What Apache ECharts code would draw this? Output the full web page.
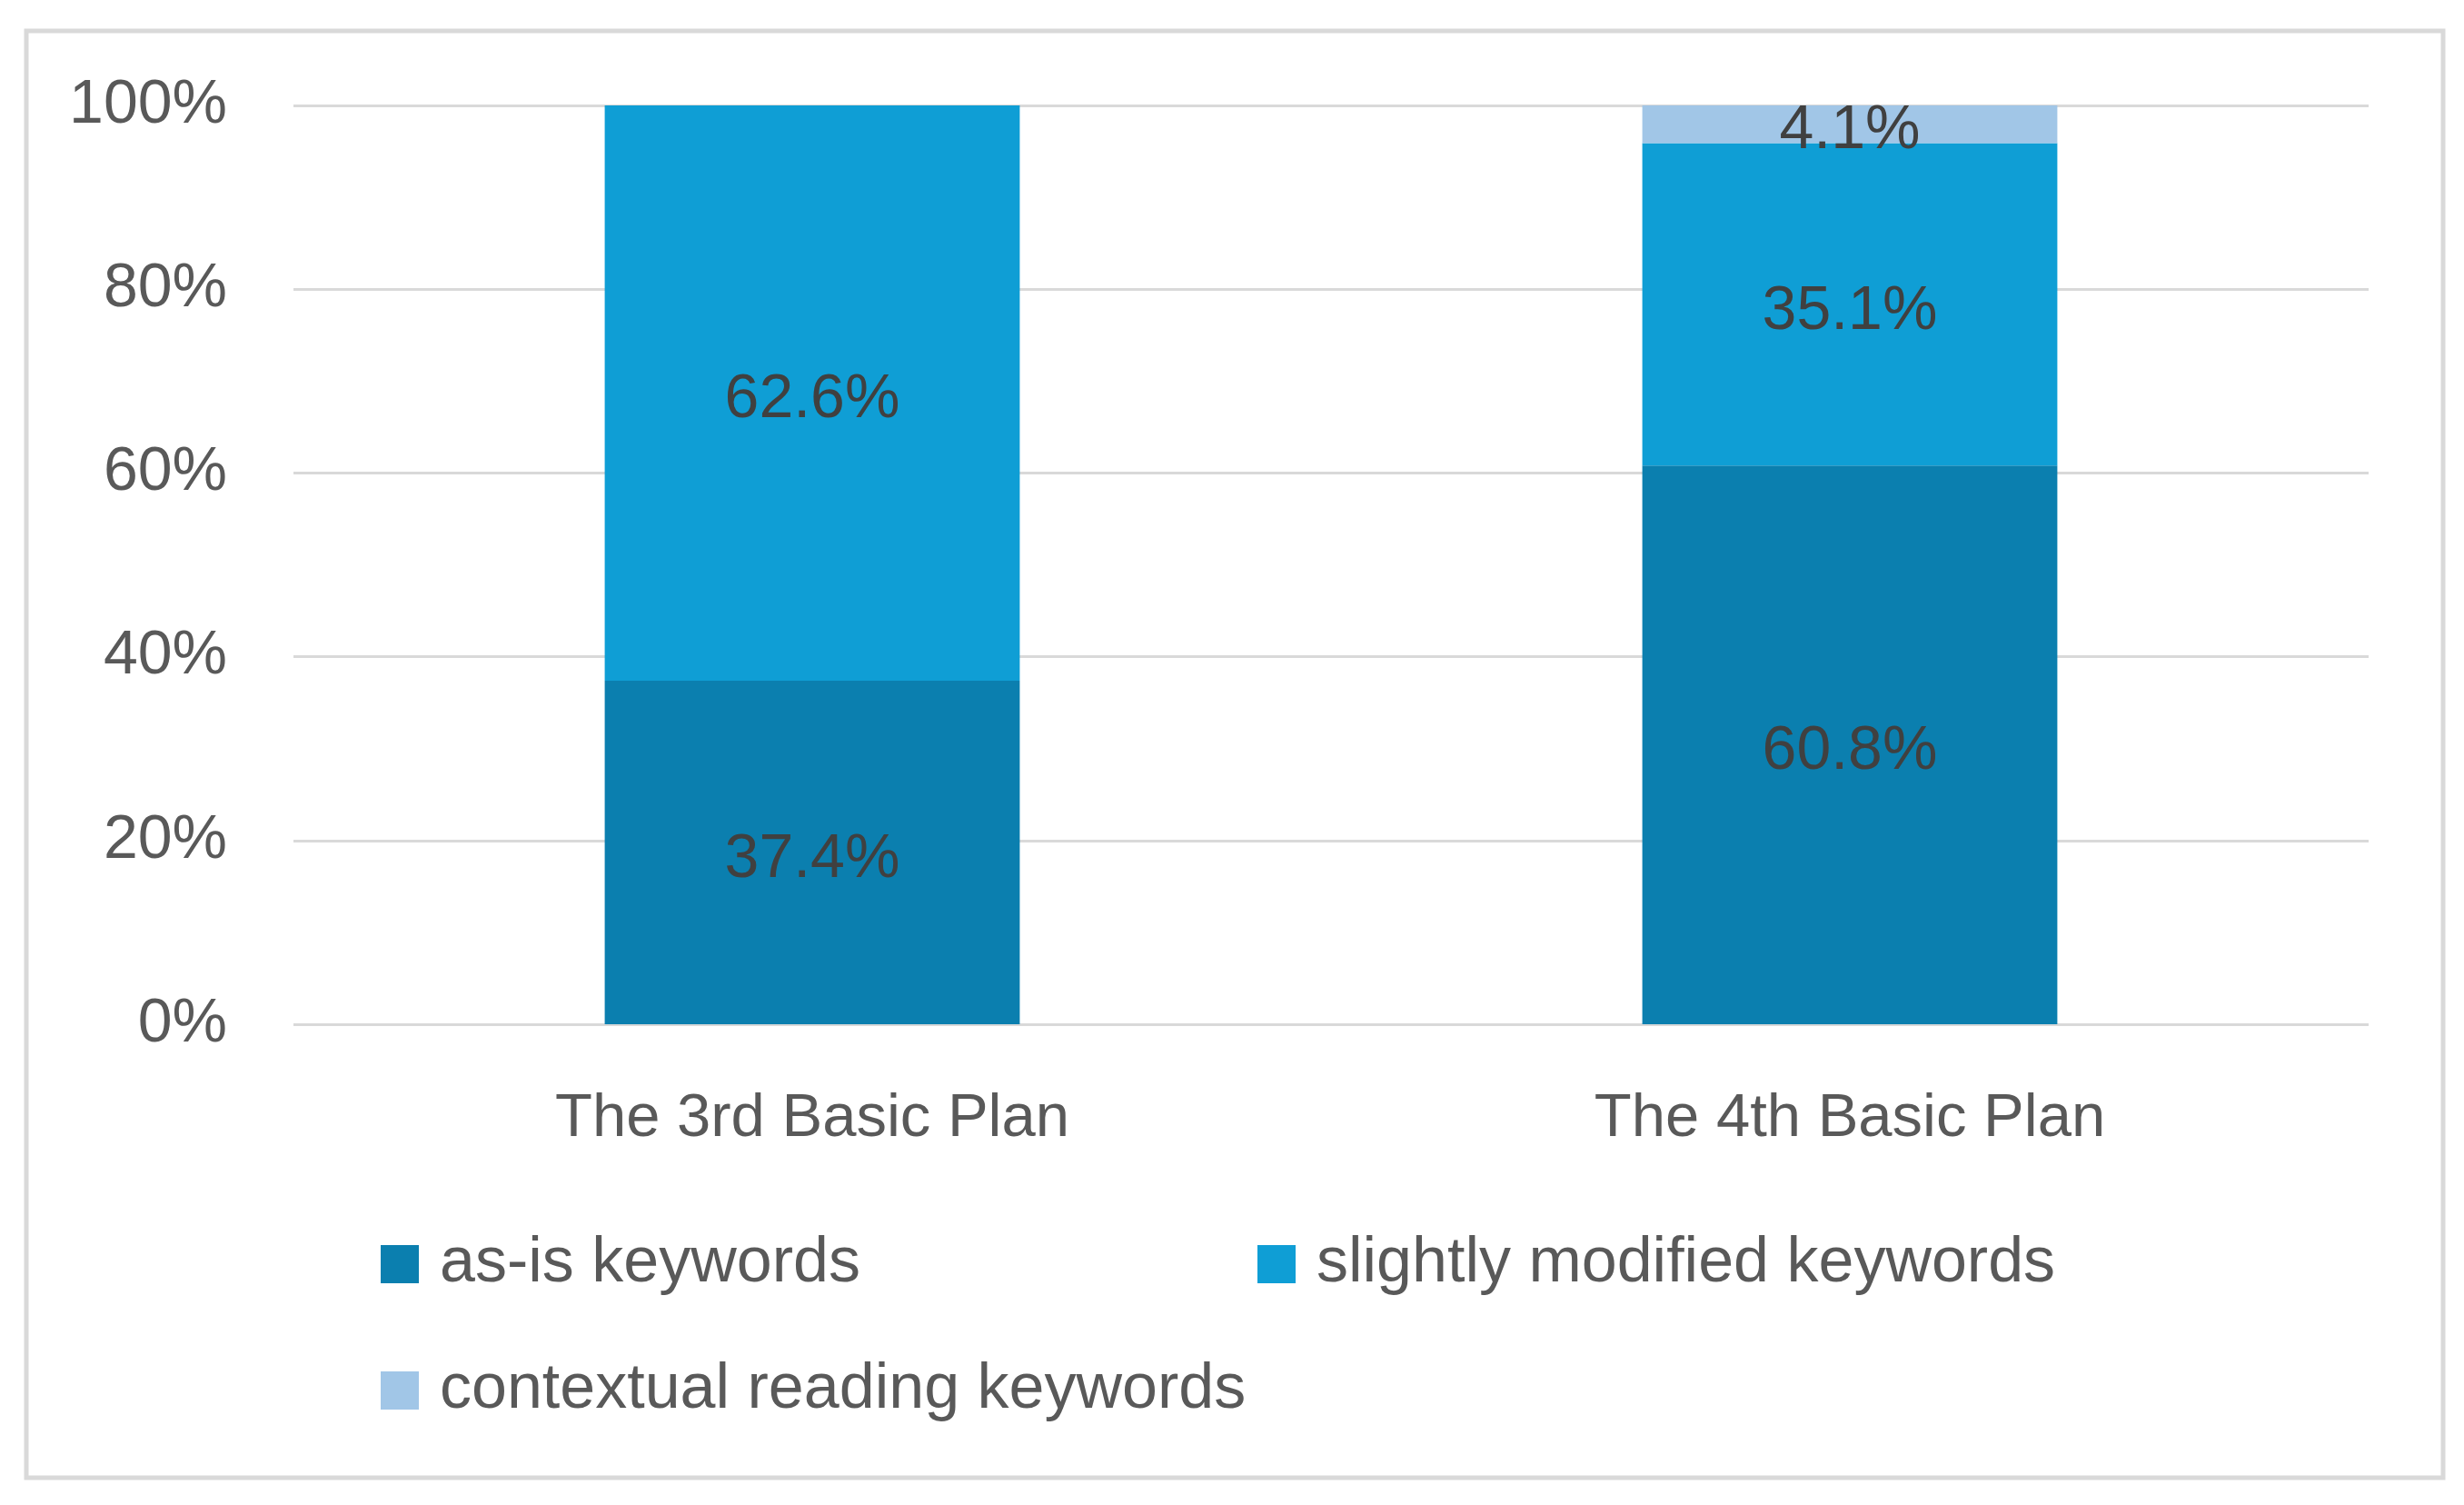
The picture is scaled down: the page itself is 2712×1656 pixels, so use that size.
<!DOCTYPE html>
<html>
<head>
<meta charset="utf-8">
<script src="https://cdn.jsdelivr.net/npm/echarts@6/dist/echarts.min.js"></script>
<style>
  html, body { margin: 0; padding: 0; background: #ffffff; }
  #chart { width: 2712px; height: 1656px; }
</style>
</head>
<body>
<div id="chart"></div>
<script>
const categories = ['The 3rd Basic Plan', 'The 4th Basic Plan'];
const asIsValues = [37.4, 60.8];
const slightlyModifiedValues = [62.6, 35.1];
const contextualValues = [0, 4.1];
const seriesNames = ['as-is keywords', 'slightly modified keywords', 'contextual reading keywords'];
const seriesColors = ['#0B7FAF', '#0F9ED5', '#A1C6E7'];
const yTicks = [0, 20, 40, 60, 80, 100];

const chart = echarts.init(document.getElementById('chart'), null, { renderer: 'canvas' });

const numFont = 'Liberation Sans';
const txtFont = '"Liberation Sans", Arial, sans-serif';

function labelFmt(p) {
  return p.value > 0 ? p.value.toFixed(1) + '%' : '';
}

const dataSets = [asIsValues, slightlyModifiedValues, contextualValues];

const series = seriesNames.map((name, i) => ({
  name: name,
  type: 'bar',
  stack: 'total',
  data: dataSets[i],
  barCategoryGap: '60%',
  itemStyle: { color: seriesColors[i] },
  label: {
    show: true,
    position: 'inside',
    offset: [0, 8],
    formatter: labelFmt,
    color: '#404040',
    fontFamily: numFont,
    fontSize: 68
  },
  emphasis: { disabled: true }
}));

function legendAt(name, left, top) {
  return {
    data: [name],
    left: left,
    top: top,
    padding: 0,
    orient: 'horizontal',
    icon: 'rect',
    itemWidth: 42,
    itemHeight: 42,
    selectedMode: false,
    textStyle: {
      fontFamily: txtFont,
      fontSize: 70,
      color: '#595959',
      lineHeight: 84,
      padding: [0, 0, 0, 18]
    }
  };
}

const option = {
  backgroundColor: '#ffffff',
  animation: false,
  grid: { left: 323, right: 105, top: 116, bottom: 529, containLabel: false },
  xAxis: {
    type: 'category',
    data: categories,
    axisLine: { show: false },
    axisTick: { show: false },
    axisLabel: {
      margin: 66,
      fontFamily: txtFont,
      fontSize: 67,
      lineHeight: 78,
      color: '#595959'
    }
  },
  yAxis: {
    type: 'value',
    min: yTicks[0],
    max: yTicks[yTicks.length - 1],
    interval: 20,
    axisLine: { show: false },
    axisTick: { show: false },
    splitLine: { show: true, lineStyle: { color: '#D9D9D9', width: 3 } },
    axisLabel: {
      margin: 73,
      formatter: '{value}%',
      fontFamily: numFont,
      fontSize: 68,
      color: '#595959'
    }
  },
  legend: [
    legendAt(seriesNames[0], 419, 1349),
    legendAt(seriesNames[1], 1384, 1349),
    legendAt(seriesNames[2], 419, 1488)
  ],
  graphic: [{
    type: 'rect',
    shape: { x: 29, y: 34, width: 2660, height: 1592 },
    style: { fill: 'none', stroke: '#D9D9D9', lineWidth: 5 },
    silent: true,
    z: -1
  }],
  series: series
};

chart.setOption(option);
</script>
</body>
</html>
